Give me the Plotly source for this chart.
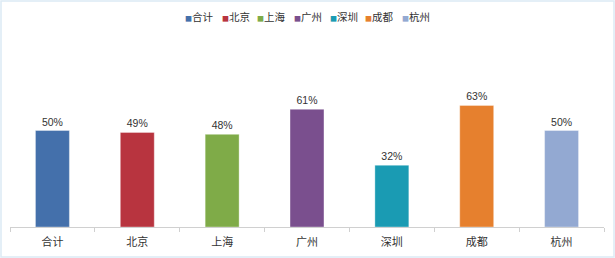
import plotly.graph_objects as go

categories = ["合计", "北京", "上海", "广州", "深圳", "成都", "杭州"]
values = [0.50, 0.49, 0.48, 0.61, 0.32, 0.63, 0.50]
colors = ["#4470AB", "#B8343F", "#7FAB48", "#7A4F8E", "#1A9BB3", "#E6802E", "#93A9D2"]

W, H = 615, 258
ML, MR, MT, MB = 10, 11, 34, 31
PW, PH = W - ML - MR, H - MT - MB

cjk = "Noto Sans CJK SC, sans-serif"
latin = "Liberation Sans, Arial, sans-serif"

fig = go.Figure()
for c, v, col in zip(categories, values, colors):
    fig.add_trace(go.Bar(
        x=[c], y=[v], name=c, width=0.4,
        marker=dict(color=col, line=dict(color="rgba(255,255,255,0.35)", width=1)),
        text=[f"{round(v*100)}%"], textposition="outside",
        textfont=dict(size=10.5, color="#333333", family=latin),
        cliponaxis=False, showlegend=False,
    ))

# custom compact legend
annotations = []
step = 36
n = len(categories)
for i, (c, col) in enumerate(zip(categories, colors)):
    cx_px = W / 2 + (i - (n - 1) / 2) * step
    annotations.append(dict(
        xref="paper", yref="paper",
        x=(cx_px - ML) / PW, y=1 + (MT - 17) / PH,
        xanchor="center", yanchor="middle", showarrow=False,
        text=f"<span style='font-size:7px;color:{col}'>■</span>{c}",
        font=dict(size=10.5, color="#333333", family=cjk),
    ))

fig.update_layout(
    width=W, height=H,
    margin=dict(l=ML, r=MR, t=MT, b=MB),
    barmode="overlay",
    paper_bgcolor="white", plot_bgcolor="white",
    font=dict(family=cjk, size=11, color="#333333"),
    showlegend=False,
    annotations=annotations,
    xaxis=dict(showline=True, linecolor="#d0d0d0", linewidth=1, ticks="outside",
               tickson="boundaries", ticklen=4, tickcolor="#d0d0d0",
               ticklabelstandoff=5,
               tickfont=dict(size=11, color="#333333", family=cjk), showgrid=False),
    yaxis=dict(range=[0, 1], visible=False, showgrid=False, fixedrange=True),
    shapes=[dict(type="rect", xref="paper", yref="paper",
                 x0=-(ML - 1) / PW, x1=1 + (MR - 1) / PW,
                 y0=-(MB - 1) / PH, y1=1 + (MT - 1) / PH,
                 line=dict(color="#dceaf5", width=1.5),
                 fillcolor="rgba(0,0,0,0)", layer="below")],
)
fig.write_html("out.html")
